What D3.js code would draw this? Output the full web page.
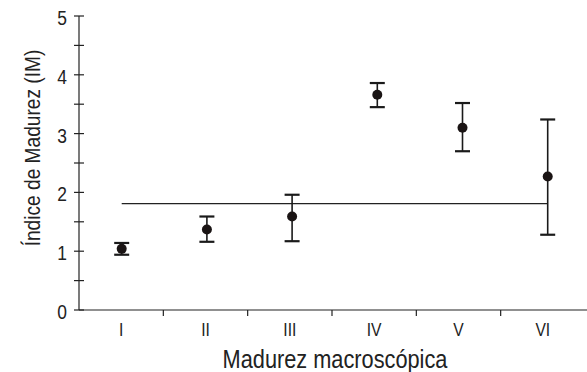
<!DOCTYPE html>
<html>
<head>
<meta charset="utf-8">
<script src="https://cdn.jsdelivr.net/npm/d3@7"></script>
<style>
  body { margin: 0; background: #fff; }
  svg text { font-family: "Liberation Sans", Arial, sans-serif; fill: #222; }
</style>
</head>
<body>
<div id="chart"></div>
<script>
// maturity stages (macroscopic) and maturity index per stage
var stages = ["I", "II", "III", "IV", "V", "VI"];
var means = [1.04, 1.37, 1.59, 3.66, 3.10, 2.27];
var lows  = [0.94, 1.16, 1.17, 3.45, 2.70, 1.28];
var highs = [1.14, 1.59, 1.96, 3.86, 3.52, 3.24];
var refLevel = 1.81; // horizontal reference line
var yTicks = [0, 1, 2, 3, 4, 5];

var width = 587, height = 372;
var mLeft = 79, mTop = 16, mBottom = 310;
var NARROW = 0.87; // the original uses a condensed face

var svg = d3.select("#chart").append("svg")
  .attr("width", width)
  .attr("height", height);

var x = d3.scaleBand().domain(stages).range([mLeft, 585]);
// markers sit a touch wider apart than the labels in the original
var xp = d3.scalePoint().domain(stages).range([121.7, 547.7]);
var y = d3.scaleLinear().domain([0, 5]).range([mBottom, mTop]);

// condensed text: squeeze horizontally round the anchor point
function narrowText(sel, tx, ty, size, anchor, rot) {
  return sel.append("g")
    .attr("transform", function(d, i) {
      var px = typeof tx === "function" ? tx(d, i) : tx,
          py = typeof ty === "function" ? ty(d, i) : ty;
      return "translate(" + px + "," + py + ")" + (rot ? "rotate(" + rot + ")" : "") + "scale(" + NARROW + ",1)";
    })
    .append("text")
    .attr("text-anchor", anchor)
    .attr("font-size", size);
}

// y axis
var yAxis = svg.append("g").attr("transform", "translate(" + mLeft + ",0)");
yAxis.append("line")
  .attr("y1", y(0)).attr("y2", y(5))
  .attr("stroke", "#222").attr("stroke-width", 1.2);
yAxis.selectAll("line.tick")
  .data(d3.range(0, 5.01, 0.5))
  .enter().append("line")
  .attr("class", "tick")
  .attr("x1", -5).attr("x2", 5)
  .attr("y1", d => y(d)).attr("y2", d => y(d))
  .attr("stroke", "#222").attr("stroke-width", 1.2);
narrowText(yAxis.selectAll("g.lab").data(yTicks).enter(), -12, d => y(d) + 9, 20, "end")
  .text(d => d);

// x axis
var xAxis = svg.append("g");
xAxis.append("line")
  .attr("x1", mLeft).attr("x2", width)
  .attr("y1", mBottom).attr("y2", mBottom)
  .attr("stroke", "#222").attr("stroke-width", 1.2);
xAxis.selectAll("line.tick")
  .data(stages.slice(1))
  .enter().append("line")
  .attr("class", "tick")
  .attr("x1", d => x(d)).attr("x2", d => x(d))
  .attr("y1", mBottom).attr("y2", mBottom + 6)
  .attr("stroke", "#222").attr("stroke-width", 1.2);
narrowText(xAxis.selectAll("g.lab").data(stages).enter(), d => x(d) + x.bandwidth() / 2, 336, 18, "middle")
  .text(d => d);

// axis titles
narrowText(svg, 335, 368, 25, "middle").text("Madurez macroscópica");
narrowText(svg, 40, 148, 22, "middle", -90).text("Índice de Madurez (IM)");

// reference line
svg.append("line")
  .attr("x1", xp("I")).attr("x2", xp("VI"))
  .attr("y1", y(refLevel)).attr("y2", y(refLevel))
  .attr("stroke", "#222").attr("stroke-width", 1.2);

// error bars
var bars = svg.append("g").selectAll("g")
  .data(stages)
  .enter().append("g");
bars.append("line")
  .attr("x1", d => xp(d)).attr("x2", d => xp(d))
  .attr("y1", (d, i) => y(lows[i])).attr("y2", (d, i) => y(highs[i]))
  .attr("stroke", "#1a1a1a").attr("stroke-width", 1.6);
bars.append("line")
  .attr("x1", d => xp(d) - 7.5).attr("x2", d => xp(d) + 7.5)
  .attr("y1", (d, i) => y(highs[i])).attr("y2", (d, i) => y(highs[i]))
  .attr("stroke", "#1a1a1a").attr("stroke-width", 2.2);
bars.append("line")
  .attr("x1", d => xp(d) - 7.5).attr("x2", d => xp(d) + 7.5)
  .attr("y1", (d, i) => y(lows[i])).attr("y2", (d, i) => y(lows[i]))
  .attr("stroke", "#1a1a1a").attr("stroke-width", 2.2);
bars.append("circle")
  .attr("cx", d => xp(d))
  .attr("cy", (d, i) => y(means[i]))
  .attr("r", 5)
  .attr("fill", "#1a1414");
</script>
</body>
</html>
